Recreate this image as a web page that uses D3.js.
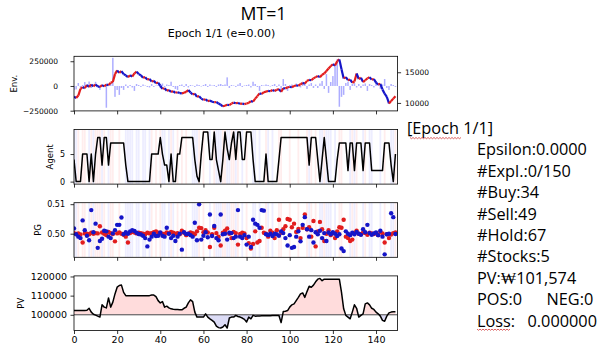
<!DOCTYPE html>
<html><head><meta charset="utf-8">
<script src="https://cdn.jsdelivr.net/npm/d3@7"></script>
<style>body{margin:0;background:#fff}svg{display:block}</style>
</head><body>
<script>
// ---------- DATA ----------
const price = [
11000,10800,11200,12300,12600,12400,12900,12600,13000,12700,
13000,12700,12600,12900,12700,13000,12900,13300,13400,14700,
15300,14900,15200,14700,14500,14200,14500,14300,14800,15100,
14700,14500,14100,14200,13800,13900,13500,13600,13200,13300,
12800,12300,12400,12000,12100,11800,11900,11650,11750,11600,
11550,11650,11800,12100,11700,11400,11500,11000,11100,10700,
10500,10600,10300,10400,10200,10100,10150,9900,9700,9450,
9550,9700,9650,9900,10050,9950,10000,9850,9900,9800,
9900,10000,10300,10200,10700,11100,11550,11450,11750,11850,
11950,11900,12100,11950,12150,12250,11800,12400,12350,12550,
12600,12550,12750,12850,12800,13050,13250,13150,13600,13750,
13700,14000,14200,14400,14200,14600,14800,15200,15600,16000,
16300,16100,16800,17100,15500,14000,14200,13700,13800,13300,
13500,14800,13900,14100,13400,13700,14000,14200,13800,13900,
13300,13000,13100,12200,11500,11000,9900,10300,10700,11100];

const volume = [
-40000,-35000,30000,-15000,10000,40000,20000,45000,-20000,15000,
42000,-10000,-40000,15000,10000,-220000,20000,30000,285000,-110000,
-40000,-90000,-20000,-40000,15000,-20000,10000,-15000,-50000,20000,
10000,-10000,15000,5000,-10000,-15000,20000,-10000,5000,10000,
-20000,25000,-10000,15000,10000,43000,-10000,-30000,-40000,10000,
15000,-10000,20000,-15000,10000,5000,-10000,15000,10000,-5000,
10000,20000,-10000,15000,5000,10000,-10000,15000,20000,10000,
15000,87000,-20000,10000,5000,-10000,15000,30000,-10000,5000,
10000,15000,-15000,43000,20000,-10000,-50000,10000,5000,15000,
10000,-5000,10000,20000,-10000,15000,-30000,70000,20000,-50000,
10000,15000,-10000,25000,10000,-15000,43000,20000,-30000,15000,
30000,-20000,15000,-20000,25000,50000,-30000,120000,-70000,40000,
100000,227000,270000,-210000,-110000,-90000,30000,43000,-40000,20000,
30000,-15000,20000,-20000,15000,25000,-50000,20000,10000,-15000,
50000,20000,-30000,15000,70000,-20000,-40000,20000,10000,-10000];

const agent = [
4,0,0,0,5,5,5,0,5,0,
5,8,8,3,8,8,3,7,7,7,
7,7,7,7,3,0,0,0,0,0,
0,0,0,0,0,0,5,5,5,5,
8,5,3,3,0,5,0,0,5,5,
8,8,8,8,8,8,4,1,0,5,
9,9,9,4,4,9,4,2,0,4,
9,6,4,7,9,4,9,9,4,4,
9,9,9,4,0,0,0,0,0,5,
0,0,0,0,0,4,8,8,8,8,
8,8,8,8,8,8,8,8,8,3,
8,8,8,4,0,4,8,4,0,0,
0,0,4,7,7,7,7,2,7,7,
2,7,7,7,2,7,7,7,2,2,
2,2,2,2,7,7,7,3,0,5];

// B = buy (red stripe), S = sell (blue stripe), . = hold
const actions =
"SSB.BB.SBS"+"BBBSB.SBB."+".B..SSSS.S"+"S.SS.SB.B."+"BSS.SBS.B."+
"B.B..SSSB."+"B..S.BSSSB"+"BSSBBSB.S."+"B..SS.S..B"+"S.S..BB..."+
"B...B...BS"+"B.B.SSBSSS"+".S.BB...SB"+"SB..SB.SS."+"..S.B..SSB";

const pgRed = [
.5002,.4999,.5001,.4997,.4970,.5001,.5000,.4998,.5003,.5000,
.5002,.5001,.5025,.5004,.5000,.4995,.5006,.5002,.4999,.4974,
.5001,.5004,.5000,.4996,.4990,.4970,.5002,.5006,.5004,.5001,
.5003,.5002,.5000,.4998,.5003,.5001,.5002,.5005,.5008,.5003,
.5002,.5000,.4999,.5004,.5001,.5006,.5003,.5000,.5002,.4998,
.5010,.5003,.4995,.5000,.5004,.5002,.4998,.5008,.5020,.5019,
.5005,.5012,.5004,.4955,.4998,.5020,.5002,.4990,.4960,.5003,
.5010,.5018,.5000,.4985,.5006,.5002,.4963,.4999,.5003,.5001,
.4985,.4968,.4950,.4965,.5008,.4970,.4975,.5020,.5003,.5000,
.4990,.5010,.5003,.4985,.5012,.5047,.5003,.5015,.5025,.5050,
.5047,.5022,.5034,.5006,.5016,.4985,.5020,.5065,.5015,.5022,
.4990,.5043,.4957,.5008,.5040,.5015,.4975,.5000,.5012,.4995,
.5002,.4985,.5008,.5022,.5020,.5047,.4990,.4985,.4975,.4980,
.5003,.5010,.5000,.4998,.5004,.5002,.4996,.5003,.5001,.4999,
.5002,.4995,.5006,.5001,.4970,.4998,.4985,.4997,.5002,.5004];

const pgBlue = [
.5018,.4998,.4990,.4985,.5045,.5012,.4993,.4978,.5080,.5005,
.5034,.4952,.4975,.4983,.5010,.5008,.4990,.4985,.5001,.5012,
.5030,.5030,.5055,.4998,.5005,.5000,.5008,.5012,.5009,.5003,
.4999,.4997,.4993,.4985,.4957,.4980,.4990,.5000,.4992,.4993,
.5004,.4993,.4990,.5020,.5000,.4985,.4993,.4975,.4990,.5000,
.4946,.5005,.4999,.5000,.4995,.4990,.5037,.4978,.5100,.4980,
.4993,.5005,.4988,.5065,.4992,.5026,.4985,.4978,.5065,.4998,
.5000,.4980,.5003,.5002,.4985,.4990,.5080,.4990,.4985,.4995,
.4963,.4990,.4955,.5047,.5034,.5030,.5020,.5080,.5078,.4998,
.4995,.5000,.4992,.5000,.4998,.4993,.5008,.5002,.4985,.4960,
.4995,.4952,.4955,.4990,.5008,.4974,.5030,.5056,.5015,.4990,
.5012,.4970,.5005,.4998,.5010,.4985,.5002,.4975,.5004,.4998,
.5005,.5000,.4992,.4998,.4950,.4941,.5008,.5000,.4995,.5003,
.4998,.5006,.5000,.4996,.5015,.5005,.5030,.5002,.4996,.5001,
.5004,.4995,.5010,.4990,.4930,.4998,.5000,.5069,.5056,.4999];

const pv = [
102200,102200,102200,102200,102300,102300,102400,103400,101400,100300,
99800,99300,98800,105200,104000,103600,108800,104000,106600,110900,
114400,115300,115500,111700,110000,110000,110000,110000,110000,110000,
110000,110000,110000,110000,110000,110000,110300,110300,109500,107400,
106200,106900,104000,104500,103600,103100,102900,102800,102700,102600,
102600,103400,104000,106200,107800,106900,101400,98800,98900,98800,
98800,100500,98800,97900,97100,96200,94100,93300,93100,93600,
94800,93100,98300,98800,98800,99700,99100,98800,98300,97600,
96200,98800,97900,99700,99300,99400,99400,99500,99500,99500,
99500,99500,99600,99600,99600,99600,95900,101700,101900,102200,
104000,105200,105700,107400,109100,110900,111400,109100,112100,114900,
114400,115500,117200,118600,119000,117800,118600,118600,118600,118600,
118600,118600,118600,118600,111700,103100,99700,98800,97900,101400,
105200,103400,98800,99700,100500,105700,106200,105200,103400,102800,
101400,100500,99300,97100,96600,99300,101000,101400,101574,101574];

const pvBase = 100000;
const xTicks = [0,20,40,60,80,100,120,140];
const envTicks = [-250000,0,250000];
const priceTicks = [10000,15000];
const agentTicks = [0,5];
const pgTicks = [0.50,0.51];
const pvTicks = [100000,110000,120000];

const title = "MT=1";
const subtitle = "Epoch 1/1 (e=0.00)";
const infoHead = "[Epoch 1/1]";
const infoLines = ["Epsilon:0.0000","#Expl.:0/150","#Buy:34","#Sell:49","#Hold:67","#Stocks:5","PV:\u20A9101,574"];
const posNeg = ["POS:0","NEG:0"];
const lossTxt = ["Loss:","0.000000"];

// ---------- LAYOUT ----------
const W=601,H=358;
const svg=d3.select("body").append("svg").attr("width",W).attr("height",H)
  .style("font-family","'DejaVu Sans'");
const L=74,R=397.6, PH=54.6;
const tops=[56.3,129.5,202.7,275.9];
const x=d3.scaleLinear().domain([0,150]).range([L,R]);
const idx=d3.range(price.length);
const fmtMinus=d=>d3.format("d")(d).replace("-","\u2212");

function panel(k,id){
  const t=tops[k];
  svg.append("clipPath").attr("id",id).append("rect")
    .attr("x",L).attr("y",t).attr("width",R-L).attr("height",PH);
  return svg.append("g").attr("clip-path",`url(#${id})`);
}
function frame(k){
  svg.append("rect").attr("x",L).attr("y",tops[k]).attr("width",R-L).attr("height",PH)
    .attr("fill","none").attr("stroke","#000").attr("stroke-width",0.8);
}
function xAxis(k,labels,fs){
  const g=svg.append("g").attr("transform",`translate(0,${tops[k]+PH})`)
    .call(d3.axisBottom(x).tickValues(xTicks).tickSize(3.5).tickPadding(2.5)
      .tickFormat(labels?d3.format("d"):""));
  g.select(".domain").remove();
  g.selectAll("line").attr("stroke","#000").attr("stroke-width",0.8);
  g.selectAll("text").attr("font-size",fs).attr("fill","#000").attr("font-family","'DejaVu Sans'");
}
function yAxis(k,scale,ticks,fmt,fs,pad){
  const g=svg.append("g").attr("transform",`translate(${L},0)`)
    .call(d3.axisLeft(scale).tickValues(ticks).tickSize(3.5).tickPadding(pad).tickFormat(fmt));
  g.select(".domain").remove();
  g.selectAll("line").attr("stroke","#000").attr("stroke-width",0.8);
  g.selectAll("text").attr("font-size",fs).attr("fill","#000").attr("font-family","'DejaVu Sans'");
}
function yLabel(txt,cx,cy,fs){
  svg.append("text").attr("transform",`translate(${cx},${cy}) rotate(-90)`)
    .attr("text-anchor","middle").attr("dominant-baseline","central")
    .attr("font-size",fs).text(txt);
}
function stripes(g,k){
  const t=tops[k], w=(x(1)-x(0))*0.85;
  g.selectAll(null).data(idx.filter(i=>actions[i]!==".")).enter().append("rect")
    .attr("x",i=>x(i)-w/2).attr("y",t).attr("width",w).attr("height",PH)
    .attr("fill",i=>actions[i]==="B"?"#ff0000":"#0000ff").attr("opacity",0.07);
}

// ---------- Panel 1: Env ----------
{
  const t=tops[0];
  const yEnv=d3.scaleLinear().domain([-252000,300000]).range([t+PH,t]);
  const yP=d3.scaleLinear().domain([8700,17600]).range([t+PH,t]);
  const g=panel(0,"c0");
  g.selectAll(null).data(idx).enter().append("rect")
    .attr("x",i=>x(i)-0.75).attr("width",1.5)
    .attr("y",i=>yEnv(Math.max(volume[i],0)))
    .attr("height",i=>Math.abs(yEnv(volume[i])-yEnv(0)))
    .attr("fill","#0000ff").attr("opacity",0.32);
  g.selectAll(null).data(idx.slice(1)).enter().append("line")
    .attr("x1",i=>x(i-1)).attr("x2",i=>x(i))
    .attr("y1",i=>yP(price[i-1])).attr("y2",i=>yP(price[i]))
    .attr("stroke",i=>price[i]>=price[i-1]?"#e21d1d":"#1515c8")
    .attr("stroke-width",2.2);
  frame(0);
  xAxis(0,false,9.5);
  yAxis(0,yEnv,envTicks,fmtMinus,7.5,12.5);
  const gr=svg.append("g").attr("transform",`translate(${R},0)`)
    .call(d3.axisRight(yP).tickValues(priceTicks).tickSize(3.5).tickPadding(4).tickFormat(d3.format("d")));
  gr.select(".domain").remove();
  gr.selectAll("line").attr("stroke","#000").attr("stroke-width",0.8);
  gr.selectAll("text").attr("font-size",7.5).attr("fill","#000").attr("font-family","'DejaVu Sans'");
  yLabel("Env.",13.5,t+PH/2,8.5);
}

// ---------- Panel 2: Agent ----------
{
  const t=tops[1];
  const y=d3.scaleLinear().domain([-0.45,9.45]).range([t+PH,t]);
  const g=panel(1,"c1");
  stripes(g,1);
  g.append("path").datum(idx).attr("fill","none").attr("stroke","#000").attr("stroke-width",1.5)
    .attr("stroke-linejoin","round")
    .attr("d",d3.line().x(i=>x(i)).y(i=>y(agent[i])));
  frame(1);
  xAxis(1,false,9.5);
  yAxis(1,y,agentTicks,d3.format("d"),8,5.5);
  yLabel("Agent",50,t+PH/2,8.5);
}

// ---------- Panel 3: PG ----------
{
  const t=tops[2];
  const y=d3.scaleLinear().domain([0.4920,0.5105]).range([t+PH,t]);
  const g=panel(2,"c2");
  stripes(g,2);
  g.selectAll(null).data(idx).enter().append("circle")
    .attr("cx",i=>x(i)).attr("cy",i=>y(pgRed[i])).attr("r",2.2).attr("fill","#e21d1d");
  g.selectAll(null).data(idx).enter().append("circle")
    .attr("cx",i=>x(i)).attr("cy",i=>y(pgBlue[i])).attr("r",2.2).attr("fill","#1515c8");
  frame(2);
  xAxis(2,false,9.5);
  yAxis(2,y,pgTicks,d3.format(".2f"),8,5.5);
  yLabel("PG",37.5,t+PH/2,8.5);
}

// ---------- Panel 4: PV ----------
{
  const t=tops[3];
  const y=d3.scaleLinear().domain([91800,120300]).range([t+PH,t]);
  const g=panel(3,"c3");
  const yb=y(pvBase);
  svg.append("clipPath").attr("id","above").append("rect").attr("x",L).attr("y",t).attr("width",R-L).attr("height",yb-t);
  svg.append("clipPath").attr("id","below").append("rect").attr("x",L).attr("y",yb).attr("width",R-L).attr("height",t+PH-yb);
  const area=d3.area().x(i=>x(i)).y0(yb).y1(i=>y(pv[i]));
  g.append("path").datum(idx).attr("clip-path","url(#above)").attr("fill","#ffdcdc").attr("d",area);
  g.append("path").datum(idx).attr("clip-path","url(#below)").attr("fill","#dcdcf6").attr("d",area);
  g.append("line").attr("x1",L).attr("x2",R).attr("y1",yb).attr("y2",yb).attr("stroke","#333").attr("stroke-width",0.9);
  g.append("path").datum(idx).attr("fill","none").attr("stroke","#000").attr("stroke-width",1.5)
    .attr("stroke-linejoin","round")
    .attr("d",d3.line().x(i=>x(i)).y(i=>y(pv[i])));
  frame(3);
  xAxis(3,true,9.5);
  yAxis(3,y,pvTicks,d3.format("d"),9.5,3.5);
  yLabel("PV",21,t+PH/2,8.5);
}

// ---------- Titles ----------
svg.append("text").attr("x",263.5).attr("y",19.5).attr("text-anchor","middle")
  .attr("font-family","'Open Sans'").attr("font-size",17.7).text(title);
svg.append("text").attr("x",221.5).attr("y",36.5).attr("text-anchor","middle")
  .attr("font-size",11).text(subtitle);

// ---------- Info text ----------
const info=svg.append("g").attr("font-family","'Open Sans'").attr("font-size",16.3).attr("fill","#000");
const lineH=21.4, base0=134;
info.append("text").attr("x",407).attr("y",base0).text(infoHead);
infoLines.forEach((s,i)=>info.append("text").attr("x",477).attr("y",base0+lineH*(i+1)).text(s));
info.append("text").attr("x",477).attr("y",base0+lineH*8).text(posNeg[0]);
info.append("text").attr("x",546.5).attr("y",base0+lineH*8).text(posNeg[1]);
info.append("text").attr("x",477).attr("y",base0+lineH*9).text(lossTxt[0]);
info.append("text").attr("x",527.5).attr("y",base0+lineH*9).text(lossTxt[1]);
// spell-check squiggles
function squiggle(x0,x1,yy){
  let d=`M${x0},${yy}`;
  for(let xx=x0,k=0;xx<x1;xx+=1.5,k++) d+=`L${xx+1.5},${yy+(k%2?0:1.2)}`;
  svg.append("path").attr("d",d).attr("fill","none").attr("stroke","#d23c3c").attr("stroke-width",0.8);
}
squiggle(410,460,base0+3.5);
squiggle(477,510,base0+lineH*9+2.5);
</script>
</body></html>
